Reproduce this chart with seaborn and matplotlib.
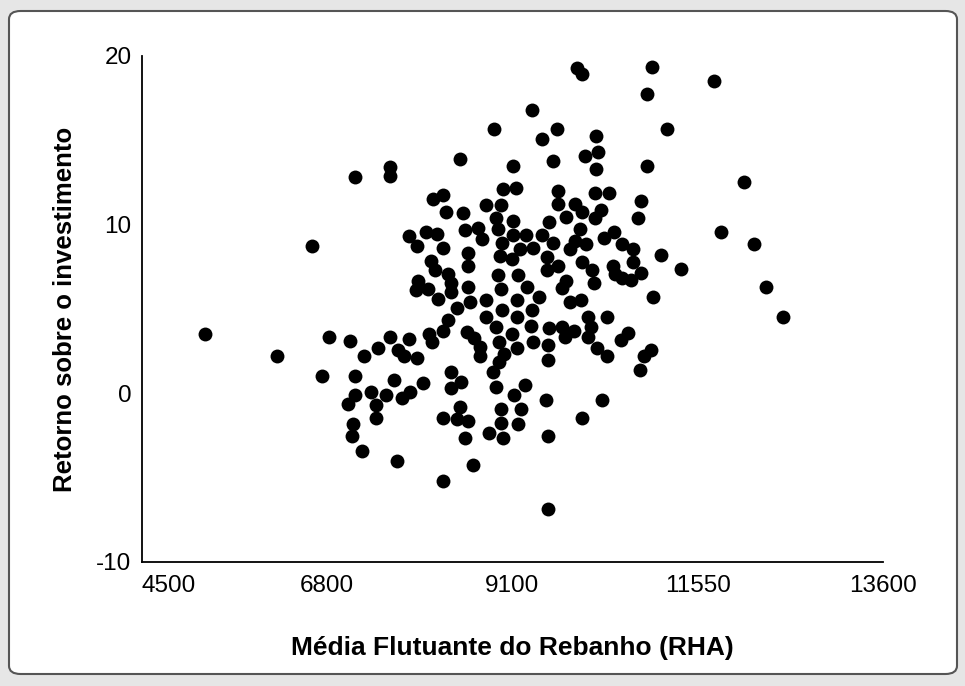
import matplotlib
matplotlib.use("Agg")
import matplotlib.pyplot as plt
from matplotlib.patches import FancyBboxPatch
import seaborn as sns
import pandas as pd

# Média Flutuante do Rebanho (RHA)
rha = [
    5270, 6158, 6588, 7116, 7546, 7546, 7779, 7877, 7988, 7890, 7865,
    9290, 8823, 9412, 8405, 9056, 9547, 8933, 9093, 8197, 8074, 8233,
    8442, 8725, 8909, 8847, 9056, 8872, 8626, 8676, 8467, 8123, 8197,
    9056, 9216, 9412, 9498, 8921, 9142, 9302, 9474, 8897, 9044, 8504,
    8504, 8049, 8098, 8258, 8295, 9474, 8872, 9118, 8504, 8909, 9228,
    8012, 9842, 9904, 10763, 10702, 9597, 10076, 10948, 9940, 10100,
    10076, 10702, 9609, 10063, 10235, 9609, 9818, 9904, 10137, 10063,
    10628, 10591, 9707, 9879, 10297, 10174, 9547, 9818, 9953, 9756,
    10395, 10530, 10874, 9609, 9904, 10026, 10284, 10530, 10628, 10395,
    10505, 10051, 9707, 9658, 10309, 11525, 11893, 11611, 12016, 11119,
    12163, 12372, 6797, 7054, 7226, 7398, 7546, 7779, 7644, 7718, 7877,
    8025, 8061, 6711, 7116, 7595, 7951, 7116, 7030, 7312, 7374, 7497,
    7693, 7791, 7374, 7091, 7079, 7202, 7632, 8135, 8295, 8369, 8528,
    8725, 8921, 9105, 9376, 9290, 9105, 8725, 8258, 8197, 8491, 8577,
    8651, 8651, 8847, 9044, 8884, 8946, 8884, 9105, 9277, 9302, 9498,
    9486, 9486, 8811, 8847, 8295, 8418, 8295, 9204, 9069, 9462, 8405,
    8197, 8369, 8504, 8909, 9154, 8909, 9118, 8762, 8933, 8467, 9486,
    8565, 8197, 9486, 9756, 9891, 10776, 9977, 10211, 9658, 9805, 9695,
    10014, 9977, 10088, 10211, 10383, 10469, 10751, 10665, 10616, 10149,
    9904,
]

# Retorno sobre o investimento
retorno = [
    3.52, 2.20, 8.72, 12.82, 13.41, 12.88, 9.32, 8.72, 9.55, 6.65, 6.11,
    16.80, 15.67, 15.07, 13.89, 13.47, 13.77, 12.11, 12.17, 11.75, 11.51, 10.74,
    10.68, 11.16, 11.16, 10.39, 10.21, 9.73, 9.79, 9.14, 9.67, 9.44, 8.60,
    9.38, 9.38, 9.38, 10.15, 8.90, 8.55, 8.60, 8.07, 8.13, 7.95, 8.31,
    7.54, 7.83, 7.30, 7.06, 6.53, 7.30, 7.00, 7.00, 6.29, 6.17, 6.29,
    6.17, 19.29, 18.93, 19.35, 17.74, 15.67, 15.25, 15.67, 14.07, 14.30,
    13.29, 13.47, 11.99, 11.87, 11.87, 11.22, 11.22, 10.74, 10.86, 10.39,
    11.39, 10.39, 10.44, 9.73, 9.55, 9.20, 8.90, 9.02, 8.84, 8.55,
    8.84, 8.55, 8.19, 7.54, 7.77, 7.30, 7.54, 7.77, 7.12, 6.82,
    6.71, 6.53, 6.65, 6.23, 7.06, 18.52, 12.52, 9.55, 8.84, 7.36,
    6.29, 4.51, 3.32, 3.09, 2.20, 2.67, 3.32, 3.20, 2.55, 2.20, 2.08,
    3.50, 3.03, 1.01, 1.01, 0.77, 0.59, -0.12, -0.65, 0.06, -0.71, -0.12,
    -0.30, 0.06, -1.48, -1.84, -2.55, -3.44, -4.04, 5.58, 5.99, 5.04, 5.40,
    5.52, 4.93, 5.52, 5.70, 4.93, 4.51, 4.51, 4.33, 3.68, 3.62, 3.26,
    2.73, 2.20, 3.92, 3.50, 3.03, 2.31, 1.84, 2.67, 3.98, 3.03, 3.86,
    2.85, 1.96, 1.25, 0.36, 1.25, 0.65, 0.30, 0.47, -0.12, -0.42, -0.83,
    -1.48, -1.54, -1.66, -0.95, -0.95, -1.78, -1.84, -2.37, -2.67, -2.67, -2.55,
    -4.27, -5.22, -6.83, 5.40, 5.52, 5.70, 4.51, 4.51, 3.92, 3.68, 3.32,
    3.92, 3.32, 2.67, 2.20, 3.14, 3.56, 2.55, 2.20, 1.36, -0.42,
    -1.48,
]

x_tick_labels = ["4500", "6800", "9100", "11550", "13600"]
y_ticks = [-10, 0, 10, 20]

df = pd.DataFrame({"rha": rha, "retorno": retorno})

sns.set_theme(style="white")
plt.rcParams["font.family"] = ["Liberation Sans", "DejaVu Sans"]

fig = plt.figure(figsize=(9.65, 6.86), dpi=100)
fig.patch.set_facecolor("#e6e6e6")

panel = FancyBboxPatch((9 / 965, 12 / 686), 948 / 965, 663 / 686,
                       boxstyle="round,pad=0,rounding_size=0.012",
                       transform=fig.transFigure, facecolor="white",
                       edgecolor="#555555", linewidth=1.5, zorder=-10)
fig.patches.append(panel)

ax = fig.add_axes([142 / 965, 1 - 562 / 686, (883 - 142) / 965, (562 - 56) / 686])
ax.set_zorder(5)
ax.set_facecolor("none")

sns.scatterplot(data=df, x="rha", y="retorno", ax=ax, color="black",
                s=100, linewidth=0, legend=False, zorder=3)

ax.set_xlim(4500, 13600)
ax.set_ylim(-10, 20)
ax.set_xticks([4500 + i * (13600 - 4500) / 4 for i in range(5)])
ax.set_xticklabels(x_tick_labels)
ax.set_yticks(y_ticks)
ax.set_yticklabels([str(v) for v in y_ticks])

for side in ["top", "right"]:
    ax.spines[side].set_visible(False)
for side in ["left", "bottom"]:
    ax.spines[side].set_color("black")
    ax.spines[side].set_linewidth(1.3)

ax.tick_params(axis="both", direction="inout", length=9, width=1.3,
               color="black", labelsize=17.5, labelcolor="black")
ax.tick_params(axis="x", pad=5)
ax.tick_params(axis="y", pad=3)

# first x label starts at the axis origin, as in the reference
ax.get_xticklabels()[0].set_horizontalalignment("left")

ax.set_xlabel("Média Flutuante do Rebanho (RHA)", fontsize=19,
              fontweight="bold", color="black", labelpad=28)
ax.set_ylabel("Retorno sobre o investimento", fontsize=18.5,
              fontweight="bold", color="black", labelpad=14)

fig.savefig("out.png", dpi=100, facecolor=fig.get_facecolor())
